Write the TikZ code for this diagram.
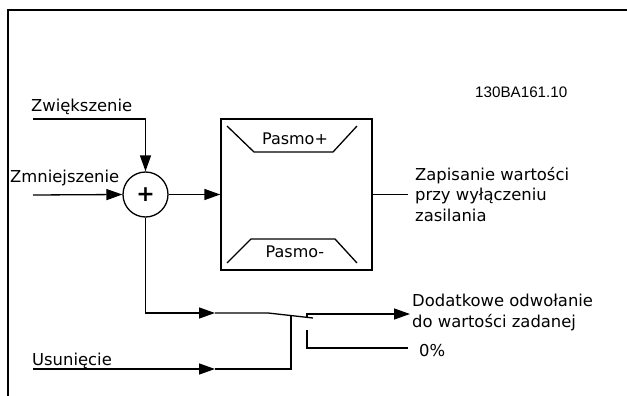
\documentclass[tikz,border=0pt]{standalone}
\usepackage{fontspec}
\setmainfont{DejaVu Sans}
\newfontfamily\labelfont{Liberation Sans}
\usetikzlibrary{arrows.meta}
\tikzset{
  wire/.style={line width=1.3pt},
  arr/.style={wire,-{Triangle[length=16pt,width=11pt]}},
  txt/.style={anchor=base west,inner sep=0pt,font=\fontsize{16.4}{20.5}\selectfont},
  frame/.style={line width=2pt},
}
\begin{document}
\begin{tikzpicture}[x=1pt,y=-1pt]
\useasboundingbox (0,0) rectangle (627,396);
% frame
\draw[frame] (8,396) -- (8,10) -- (627,10);
% label
\node[anchor=base west,inner sep=0pt,font=\labelfont\fontsize{15.2}{16}\selectfont] (lbl) at (475,97) {130BA161.10};
% sum junction
\node[circle,draw,line width=1.3pt,minimum size=45pt,inner sep=0pt] (sum) at (145.5,194.5) {};
\node[font=\bfseries\fontsize{22}{22}\selectfont,inner sep=0pt] (plus) at (sum.center) {+};
% block
\node[draw,line width=1.3pt,minimum width=151pt,minimum height=151pt,inner sep=0pt] (box) at (296.5,194.5) {};
\draw[wire] (227,126) -- (254,152) -- (333,152) -- (357,126);
\draw[wire] (227,263) -- (251,239) -- (335,239) -- (357,263);
\node[font=\fontsize{16}{20}\selectfont,inner sep=0pt] (pplus) at (295,138.5) {Pasmo+};
\node[font=\fontsize{16}{20}\selectfont,inner sep=0pt] (pminus) at (295,252) {Pasmo-};
% texts
\node[txt] (zw) at (31,112) {Zwiększenie};
\node[txt] (zm) at (10,182) {Zmniejszenie};
\node[txt,align=left] (zap) at (415,221) {Zapisanie wartości\\przy wyłączeniu\\zasilania};
\node[txt,align=left] (dod) at (412,327) {Dodatkowe odwołanie\\do wartości zadanej};
\node[txt] (zero) at (419,356) {0\%};
\node[txt] (usu) at (32,365) {Usunięcie};
% coordinates
\coordinate (zwin) at (33,119);
\coordinate (zmin) at (33,195);
\coordinate (zapend) at (408,194.5);
\coordinate (bm) at (215,313);
\coordinate (bpivot) at (268,313);
\coordinate (btip) at (313,318);
\coordinate (c1a) at (307,318);
\coordinate (c1b) at (307,314);
\coordinate (c1end) at (410,314);
\coordinate (c2a) at (307,330);
\coordinate (c2b) at (307,348);
\coordinate (c2end) at (408,348);
\coordinate (uin) at (33,369);
\coordinate (um) at (215,369);
\coordinate (ucorner) at (291,369);
\coordinate (utop) at (291,316);
% connectors
\draw[arr] (zwin) -| (sum.north);
\draw[arr] (zmin) -- (sum.west);
\draw[arr] (sum.east) -- (box.west);
\draw[wire] (box.east) -- (zapend);
\draw[arr] (sum.south) |- (bm);
\draw[wire] (bm) -- (bpivot) -- (btip);
\draw[arr] (c1a) -- (c1b) -- (c1end);
\draw[wire] (c2a) -- (c2b) -- (c2end);
\draw[arr] (uin) -- (um);
\draw[wire] (um) -- (ucorner) -- (utop);
\end{tikzpicture}
\end{document}
